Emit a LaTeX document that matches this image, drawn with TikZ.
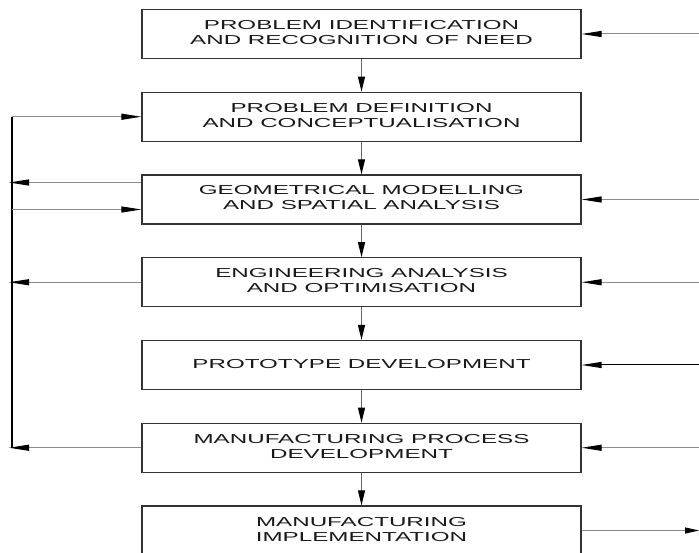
\documentclass[tikz,border=0pt]{standalone}
\usepackage{fontspec}
\setmainfont{Liberation Sans}
\usepackage{graphicx}
\usetikzlibrary{arrows.meta}

\newcommand{\widetext}[1]{\scalebox{1.86}[1]{\begin{tabular}{@{}c@{}}#1\end{tabular}}}

\tikzset{
  stage/.style={draw=black!80, line width=1.2pt, minimum width=439pt, minimum height=49pt,
    inner sep=0pt, text=black!90, font=\fontsize{13}{15}\selectfont},
  flow/.style={line width=1pt, black!60, -{Triangle[length=15pt,width=7pt,black]}},
  fb/.style={line width=1pt, black!45},
  fbtip/.style={-{Triangle[length=20pt,width=6pt,black]}},
  bus/.style={line width=1.4pt, black}
}

\begin{document}
\begin{tikzpicture}[x=1pt,y=-1pt]
    \useasboundingbox (0,0) rectangle (699,553);

    \node[stage] (need)   at (361.5,34)    {\widetext{PROBLEM IDENTIFICATION\\AND RECOGNITION OF NEED}};
    \node[stage] (defn)   at (361.5,116.75) {\widetext{PROBLEM DEFINITION\\AND CONCEPTUALISATION}};
    \node[stage] (geo)    at (361.5,199.5)  {\widetext{GEOMETRICAL MODELLING\\AND SPATIAL ANALYSIS}};
    \node[stage] (eng)    at (361.5,282.25) {\widetext{ENGINEERING ANALYSIS\\AND OPTIMISATION}};
    \node[stage] (proto)  at (361.5,365)    {\widetext{PROTOTYPE DEVELOPMENT}};
    \node[stage] (mfgdev) at (361.5,447.75) {\widetext{MANUFACTURING PROCESS\\DEVELOPMENT}};
    \node[stage] (impl)   at (361.5,530.5)  {\widetext{MANUFACTURING\\IMPLEMENTATION}};

    % main flow
    \draw[flow] (need) -- (defn);
    \draw[flow] (defn) -- (geo);
    \draw[flow] (geo) -- (eng);
    \draw[flow] (eng) -- (proto);
    \draw[flow] (proto) -- (mfgdev);
    \draw[flow] (mfgdev) -- (impl);

    % feedback loop on the left
    \coordinate (bus) at (12,0);
    \coordinate (ledge) at (9,0);
    \coordinate (geoOut) at ([yshift=17pt]geo.west);
    \coordinate (geoIn) at ([yshift=-10pt]geo.west);
    \draw[bus] (bus |- defn.west) -- (bus |- mfgdev.west);
    \draw[fb,fbtip] (bus |- defn.west) -- (defn.west);
    \draw[fb,fbtip] (bus |- geoIn) -- (geoIn);
    \draw[fb,fbtip] (geoOut) -- (ledge |- geoOut);
    \draw[fb,fbtip] (eng.west) -- (ledge |- eng.west);
    \draw[fb,fbtip] (mfgdev.west) -- (ledge |- mfgdev.west);

    % inputs on the right
    \coordinate (redge) at (699,0);
    \draw[fb,fbtip] (redge |- need.east) -- (need.east);
    \draw[fb,fbtip] (redge |- geo.east) -- (geo.east);
    \draw[fb,fbtip] (redge |- eng.east) -- (eng.east);
    \draw[fb,fbtip,black] (redge |- proto.east) -- (proto.east);
    \draw[fb,fbtip] (redge |- mfgdev.east) -- (mfgdev.east);
    \draw[fb,-{Triangle[length=14pt,width=6pt,black]}] (impl.east) -- (redge |- impl.east);
\end{tikzpicture}
\end{document}
